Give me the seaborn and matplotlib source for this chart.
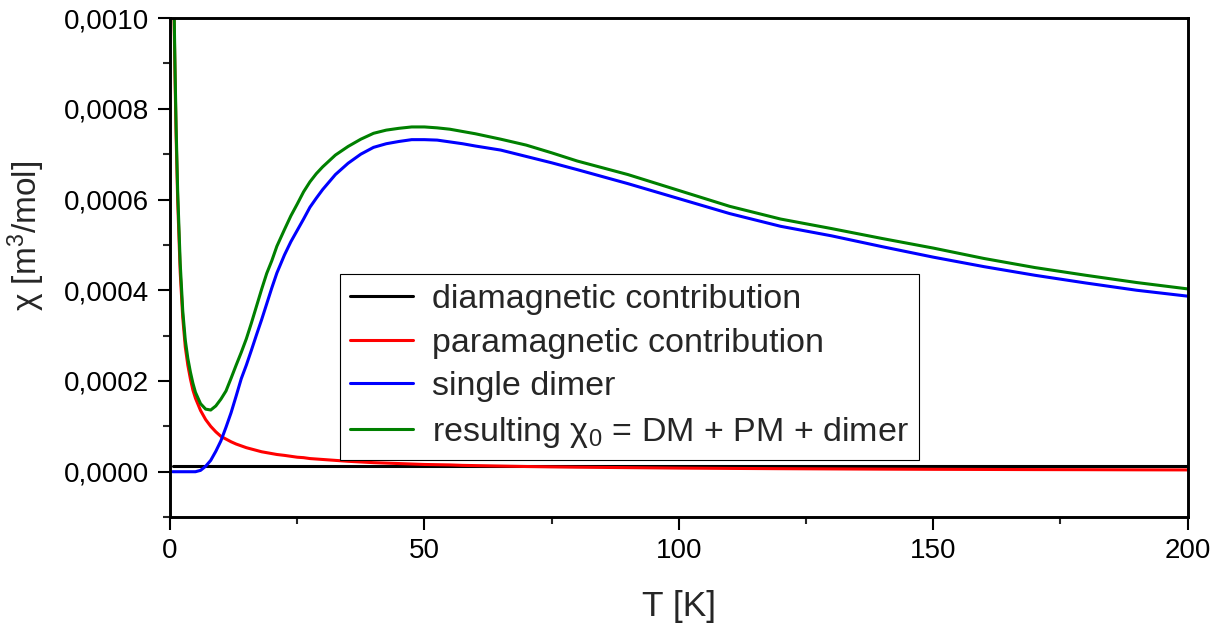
import matplotlib
matplotlib.use("Agg")
import matplotlib.pyplot as plt
from matplotlib.ticker import FuncFormatter, MultipleLocator
import numpy as np
import pandas as pd
import seaborn as sns

# ---- data (values in units of 1e-4 m^3/mol) ----
T = [0.5, 0.8, 1.0, 1.2, 1.5, 2, 2.5, 3, 3.5, 4, 4.5, 5, 6, 7, 8, 9, 10, 11, 12, 13,
     14, 15, 16, 17, 18, 19, 20, 21, 22.5, 23.75, 25, 26.25, 27.5, 28.75, 30, 32.5,
     35, 37.5, 40, 42.5, 45, 47.5, 50, 52.5, 55, 57.5, 60, 65, 70, 75, 80, 90, 100,
     110, 120, 130, 140, 150, 160, 170, 180, 190, 200]

diamagnetic = [0.12] * len(T)

paramagnetic = [16.0, 10.0, 8.6, 7.4, 6.0, 4.4, 3.4, 2.75, 2.35, 2.05, 1.8, 1.62, 1.35,
                1.15, 1.0, 0.88, 0.78, 0.72, 0.66, 0.61, 0.57, 0.53, 0.5, 0.47, 0.44,
                0.42, 0.40, 0.38, 0.36, 0.34, 0.32, 0.31, 0.29, 0.28, 0.27, 0.25, 0.23,
                0.215, 0.20, 0.19, 0.18, 0.17, 0.16, 0.155, 0.15, 0.14, 0.135, 0.125,
                0.115, 0.107, 0.10, 0.09, 0.08, 0.073, 0.067, 0.062, 0.057, 0.053,
                0.05, 0.047, 0.045, 0.042, 0.04]

single_dimer = [0, 0, 0, 0, 0, 0, 0, 0, 0, 0, 0, 0, 0.03, 0.12, 0.25, 0.45, 0.68, 0.98,
                1.3, 1.67, 2.05, 2.35, 2.68, 3.02, 3.35, 3.7, 4.05, 4.38, 4.78, 5.07,
                5.32, 5.57, 5.83, 6.03, 6.22, 6.55, 6.8, 7.0, 7.15, 7.23, 7.28, 7.32,
                7.32, 7.31, 7.27, 7.23, 7.18, 7.09, 6.95, 6.81, 6.66, 6.35, 6.02, 5.69,
                5.41, 5.2, 4.96, 4.73, 4.52, 4.33, 4.16, 4.0, 3.87]

resulting = [16.1, 10.2, 8.8, 7.6, 6.2, 4.6, 3.55, 2.9, 2.5, 2.2, 1.95, 1.75, 1.5, 1.38,
             1.36, 1.45, 1.6, 1.78, 2.06, 2.35, 2.63, 2.93, 3.28, 3.65, 4.02, 4.37,
             4.65, 4.97, 5.34, 5.64, 5.9, 6.17, 6.39, 6.57, 6.72, 6.98, 7.17, 7.33,
             7.46, 7.53, 7.57, 7.6, 7.6, 7.58, 7.55, 7.5, 7.45, 7.33, 7.2, 7.03, 6.85,
             6.55, 6.2, 5.85, 5.57, 5.36, 5.14, 4.93, 4.7, 4.5, 4.33, 4.17, 4.03]

labels = ["diamagnetic contribution", "paramagnetic contribution", "single dimer",
          "resulting χ$_0$ = DM + PM + dimer"]
colors = ["#000000", "#ff0000", "#0000ff", "#008000"]
scale = 1e-4

series = [diamagnetic, paramagnetic, single_dimer, resulting]
df = pd.concat([
    pd.DataFrame({"T": T, "chi": np.array(vals) * scale, "curve": lab})
    for lab, vals in zip(labels, series)
], ignore_index=True)

# ---- style ----
sns.set_theme(style="ticks")
plt.rcParams["font.family"] = ["Liberation Sans", "DejaVu Sans"]
plt.rcParams["mathtext.fontset"] = "custom"
plt.rcParams["mathtext.rm"] = "Liberation Sans"
plt.rcParams["mathtext.it"] = "Liberation Sans"
plt.rcParams["mathtext.bf"] = "Liberation Sans:bold"

fig = plt.figure(figsize=(12.32, 6.23), dpi=100)
ax = fig.add_axes([0.138, 0.170, 0.826, 0.801])

sns.lineplot(data=df, x="T", y="chi", hue="curve", hue_order=labels,
             palette=dict(zip(labels, colors)), linewidth=2.2, sort=True,
             estimator=None, ax=ax)

ax.set_xlim(0, 200)
ax.set_ylim(-0.0001, 0.0010)

ax.xaxis.set_major_locator(MultipleLocator(50))
ax.xaxis.set_minor_locator(MultipleLocator(25))
ax.yaxis.set_major_locator(MultipleLocator(0.0002))
ax.yaxis.set_minor_locator(MultipleLocator(0.0001))
ax.yaxis.set_major_formatter(FuncFormatter(
    lambda v, p: f"{v:.4f}".replace(".", ",").replace("-0,0000", "0,0000")))

for s in ax.spines.values():
    s.set_linewidth(2.1)
    s.set_color("black")
    s.set_visible(True)

ax.tick_params(which="major", direction="out", length=9, width=1.5, labelsize=20,
               colors="black", pad=6)
ax.tick_params(which="minor", direction="out", length=5, width=1.5)
ax.tick_params(top=False, right=False, which="both")

ax.set_xlabel("T [K]", fontsize=25.5, labelpad=19)
ax.set_ylabel("χ [m$^3$/mol]", fontsize=24)
ax.yaxis.set_label_coords(-0.121, 0.563)

handles, labs = ax.get_legend_handles_labels()
leg = ax.legend(handles, labs, loc="lower left", bbox_to_anchor=(0.167, 0.114),
                borderaxespad=0, fontsize=24.5, frameon=True, fancybox=False,
                edgecolor="black", framealpha=1, handlelength=1.85,
                handletextpad=0.55, labelspacing=0.37, borderpad=0.3)
leg.get_frame().set_linewidth(0.8)
for h in leg.get_lines():
    h.set_linewidth(2.2)

fig.savefig("out.png", dpi=100)
